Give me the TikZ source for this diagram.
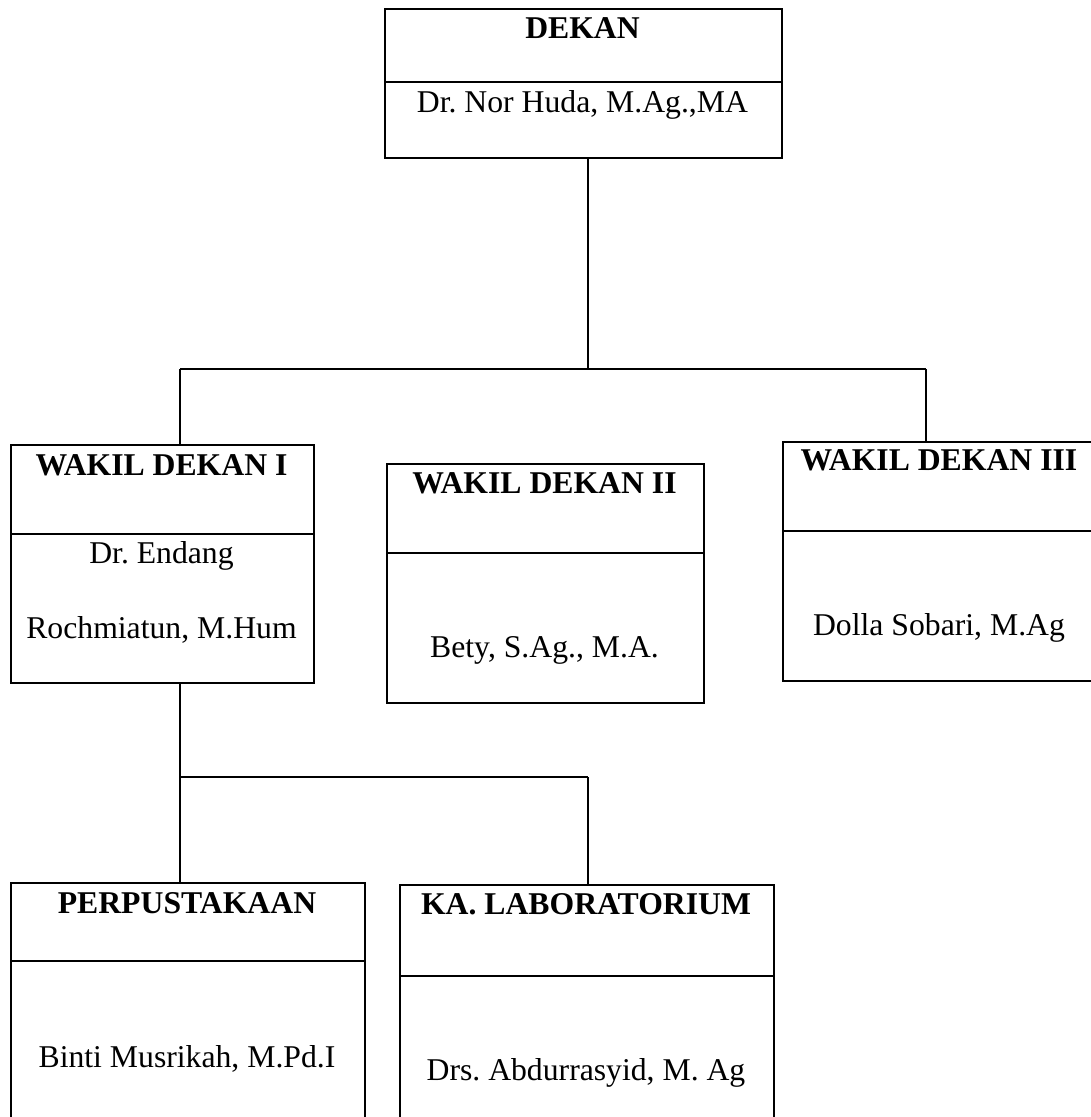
\documentclass[tikz,border=0pt]{standalone}
\usepackage{fontspec}
\setmainfont{Liberation Serif}
\frenchspacing
\begin{document}
\begin{tikzpicture}[x=1pt,y=-1pt,
  boxframe/.style={draw,line width=1.8pt,rectangle,inner sep=0pt,anchor=north west},
  divline/.style={line width=1.8pt},
  conn/.style={line width=1.4pt},
  lbl/.style={anchor=base,inner sep=0pt,font=\fontsize{31.7}{38}\selectfont},
  head/.style={lbl,font=\fontsize{31.7}{38}\selectfont\bfseries}]
\clip (0,0) rectangle (1091,1117);
\fill[white] (0,0) rectangle (1091,1117);

% boxes
\node[boxframe,minimum width=397pt,minimum height=149pt] (dekan) at (384,8) {};
\node[boxframe,minimum width=303pt,minimum height=238pt] (wd1) at (10,444) {};
\node[boxframe,minimum width=317pt,minimum height=239pt] (wd2) at (386,463) {};
\node[boxframe,minimum width=314pt,minimum height=239pt] (wd3) at (782,441) {};
\node[boxframe,minimum width=354pt,minimum height=260pt] (perp) at (10,882) {};
\node[boxframe,minimum width=374pt,minimum height=260pt] (lab) at (399,884) {};

% dividers
\draw[divline] (dekan.west |- 0,82) -- (dekan.east |- 0,82);
\draw[divline] (wd1.west |- 0,534) -- (wd1.east |- 0,534);
\draw[divline] (wd2.west |- 0,553) -- (wd2.east |- 0,553);
\draw[divline] (wd3.west |- 0,531) -- (wd3.east |- 0,531);
\draw[divline] (perp.west |- 0,961) -- (perp.east |- 0,961);
\draw[divline] (lab.west |- 0,976) -- (lab.east |- 0,976);

% texts
\node[head] (tdekan) at (582.5,38) {DEKAN};
\node[lbl] (ndekan) at (582.5,112) {Dr. Nor Huda, M.Ag.,MA};
\node[head] (twd1) at (161.5,475) {WAKIL DEKAN I};
\node[lbl] (nwd1a) at (161.5,563) {Dr. Endang};
\node[lbl] (nwd1b) at (161.5,638) {Rochmiatun, M.Hum};
\node[head] (twd2) at (544.5,493) {WAKIL DEKAN II};
\node[lbl] (nwd2) at (544.5,657) {Bety, S.Ag., M.A.};
\node[head] (twd3) at (939,470) {WAKIL DEKAN III};
\node[lbl] (nwd3) at (939,635) {Dolla Sobari, M.Ag};
\node[head] (tperp) at (187,913) {PERPUSTAKAAN};
\node[lbl] (nperp) at (187,1067) {Binti Musrikah, M.Pd.I};
\node[head] (tlab) at (586,914) {KA. LABORATORIUM};
\node[lbl] (nlab) at (586,1080) {Drs. Abdurrasyid, M. Ag};

% connectors
\coordinate (j0) at (588,369);
\coordinate (jl) at (180,369);
\coordinate (jr) at (926,369);
\coordinate (k0) at (180,777);
\coordinate (kr) at (588,777);
\draw[conn] (dekan.south -| j0) -- (j0);
\draw[conn] (jl) -- (jr);
\draw[conn] (jl) -- (wd1.north -| jl);
\draw[conn] (jr) -- (wd3.north -| jr);
\draw[conn] (wd1.south -| k0) -- (k0);
\draw[conn] (k0) -- (kr);
\draw[conn] (k0) -- (perp.north -| k0);
\draw[conn] (kr) -- (lab.north -| kr);
\end{tikzpicture}
\end{document}
